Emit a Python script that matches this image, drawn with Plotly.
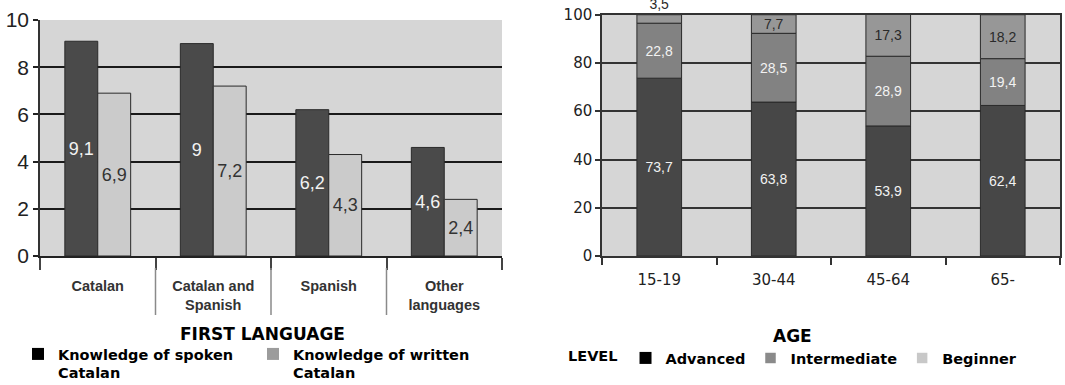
import plotly.graph_objects as go

# --- First language chart -------------------------------------------------
languages = ["Catalan", "Catalan and<br>Spanish", "Spanish", "Other<br>languages"]
spoken = [9.1, 9.0, 6.2, 4.6]
written = [6.9, 7.2, 4.3, 2.4]

# --- Age chart (stacked percentages) --------------------------------------
ages = ["15-19", "30-44", "45-64", "65-"]
advanced = [73.7, 63.8, 53.9, 62.4]
intermediate = [22.8, 28.5, 28.9, 19.4]
beginner = [3.5, 7.7, 17.3, 18.2]

W, H = 1065, 385


def fx(px):
    return px / W


def fy(px):
    return 1 - px / H


def comma(values):
    return [f"{v:g}".replace(".", ",") for v in values]


NARROW = "Liberation Sans Narrow, Arial Narrow, Liberation Sans, Arial"
SANS = "Liberation Sans, Arial, sans-serif"
WIDE = "DejaVu Sans, Verdana, sans-serif"

fig = go.Figure()

# Left chart: grouped bars
bar_text = dict(textposition="inside", insidetextanchor="middle", textangle=0,
                constraintext="none", hoverinfo="skip", showlegend=False)
fig.add_trace(go.Bar(
    x=languages, y=spoken, xaxis="x", yaxis="y", offsetgroup="spoken",
    marker=dict(color="#4a4a4a", line=dict(color="#2a2a2a", width=1)),
    text=comma(spoken), textfont=dict(family=NARROW, size=18, color="#f2f2f2"),
    **bar_text,
))
fig.add_trace(go.Bar(
    x=languages, y=written, xaxis="x", yaxis="y", offsetgroup="written",
    marker=dict(color="#cbcbcb", line=dict(color="#2a2a2a", width=1)),
    text=comma(written), textfont=dict(family=NARROW, size=18, color="#333333"),
    **bar_text,
))

# Right chart: stacked via explicit bases in a shared offset group
base_inter = [a for a in advanced]
base_begin = [a + i for a, i in zip(advanced, intermediate)]
seg_width = 0.39
common = dict(xaxis="x2", yaxis="y2", offsetgroup="age", width=seg_width,
              offset=-seg_width / 2, showlegend=False, hoverinfo="skip",
              cliponaxis=False, insidetextanchor="middle", textangle=0,
              constraintext="none")
fig.add_trace(go.Bar(
    x=ages, y=advanced, base=[0] * len(ages),
    marker=dict(color="#474747", line=dict(color="#2a2a2a", width=1)),
    text=comma(advanced), textposition="inside",
    textfont=dict(family=SANS, size=14, color="#f2f2f2"), **common,
))
fig.add_trace(go.Bar(
    x=ages, y=intermediate, base=base_inter,
    marker=dict(color="#828282", line=dict(color="#2a2a2a", width=1)),
    text=comma(intermediate), textposition="inside",
    textfont=dict(family=SANS, size=14, color="#f2f2f2"), **common,
))
fig.add_trace(go.Bar(
    x=ages, y=beginner, base=base_begin,
    marker=dict(color="#979797", line=dict(color="#2a2a2a", width=1)),
    text=comma(beginner),
    textposition=["outside", "inside", "inside", "inside"],
    textfont=dict(family=SANS, size=14, color="#2a2a2a"), **common,
))

# Legend entries (swatches only)
legend_font = dict(family=WIDE, size=14.5, color="#000000", weight="bold")
fig.add_trace(go.Bar(x=[None], y=[None], xaxis="x", yaxis="y", offsetgroup="spoken",
                     name="Knowledge of spoken<br>Catalan", legend="legend",
                     marker=dict(color="#000000", line=dict(width=0))))
fig.add_trace(go.Bar(x=[None], y=[None], xaxis="x", yaxis="y", offsetgroup="written",
                     name="Knowledge of written<br>Catalan", legend="legend",
                     marker=dict(color="#9c9c9c", line=dict(width=0))))
for name, color, lw in [("Advanced", "#000000", 0), ("Intermediate", "#8a8a8a", 1.5),
                        ("Beginner", "#c8c8c8", 1.5)]:
    fig.add_trace(go.Bar(x=[None], y=[None], xaxis="x2", yaxis="y2", offsetgroup="age",
                         width=seg_width, offset=-seg_width / 2,
                         name=name, legend="legend2",
                         marker=dict(color=color, line=dict(color="#ffffff", width=lw))))

# Separators between category labels of the left chart
shapes = []
for k in range(1, len(languages)):
    shapes.append(dict(type="line", xref="x", yref="paper",
                       x0=k - 0.5, x1=k - 0.5, y0=fy(268), y1=fy(315),
                       line=dict(color="#8a8a8a", width=1.5)))

fig.update_layout(
    width=W, height=H,
    margin=dict(l=0, r=0, t=0, b=0, autoexpand=False),
    paper_bgcolor="#ffffff",
    plot_bgcolor="#d6d6d6",
    barmode="group", bargap=0.43, bargroupgap=0,
    xaxis=dict(domain=[fx(40), fx(502)], anchor="y", type="category",
               range=[-0.5, len(languages) - 0.5],
               showline=True, linecolor="#222222", linewidth=2,
               ticks="outside", tickson="boundaries", ticklen=12,
               tickcolor="#444444", tickwidth=1.5, showgrid=False,
               ticklabelstandoff=16,
               tickfont=dict(family=SANS, size=14.5, color="#333333", weight="bold"),
               automargin=False),
    yaxis=dict(domain=[fy(256), fy(20)], anchor="x", range=[0, 10], dtick=2,
               showgrid=True, gridcolor="#1a1a1a", gridwidth=2,
               showline=True, linecolor="#333333", linewidth=1.5,
               ticks="outside", ticklen=5, tickcolor="#222222", tickwidth=1.5,
               zeroline=False,
               tickfont=dict(family=NARROW, size=21, color="#222222"),
               automargin=False),
    xaxis2=dict(domain=[fx(602), fx(1060)], anchor="y2", type="category",
                range=[-0.5, len(ages) - 0.5],
                showline=True, mirror=True, linecolor="#333333", linewidth=1.5,
                ticks="outside", tickson="boundaries", ticklen=7,
                tickcolor="#333333", tickwidth=1.5, showgrid=False,
                ticklabelstandoff=9,
                tickfont=dict(family=WIDE, size=15, color="#222222"),
                automargin=False),
    yaxis2=dict(domain=[fy(256), fy(14.5)], anchor="x2", range=[0, 100.1],
                tickvals=[0, 20, 40, 60, 80, 100],
                showgrid=True, gridcolor="#333333", gridwidth=1.5,
                showline=True, mirror=True, linecolor="#333333", linewidth=1.5,
                ticks="outside", ticklen=5, tickcolor="#333333", tickwidth=1.5,
                zeroline=False,
                tickfont=dict(family=WIDE, size=15, color="#222222"),
                automargin=False),
    legend=dict(orientation="h", x=fx(18), y=fy(338), xanchor="left", yanchor="top",
                maxheight=120,
                font=legend_font, valign="top", entrywidth=190, entrywidthmode="pixels",
                bgcolor="rgba(0,0,0,0)", itemclick=False, itemdoubleclick=False),
    legend2=dict(orientation="h", x=fx(566), y=fy(342), xanchor="left", yanchor="top",
                 font=legend_font, title=dict(text="LEVEL", side="left", font=legend_font),
                 bgcolor="rgba(0,0,0,0)", itemclick=False, itemdoubleclick=False),
    shapes=shapes,
    annotations=[
        dict(text="FIRST LANGUAGE", x=fx(262), y=fy(334), xref="paper", yref="paper",
             showarrow=False, xanchor="center", yanchor="middle",
             font=dict(family=WIDE, size=17, color="#000000", weight="bold")),
        dict(text="AGE", x=fx(792), y=fy(336), xref="paper", yref="paper",
             showarrow=False, xanchor="center", yanchor="middle",
             font=dict(family=WIDE, size=17, color="#000000", weight="bold")),
    ],
)

fig.write_html("out.html")
